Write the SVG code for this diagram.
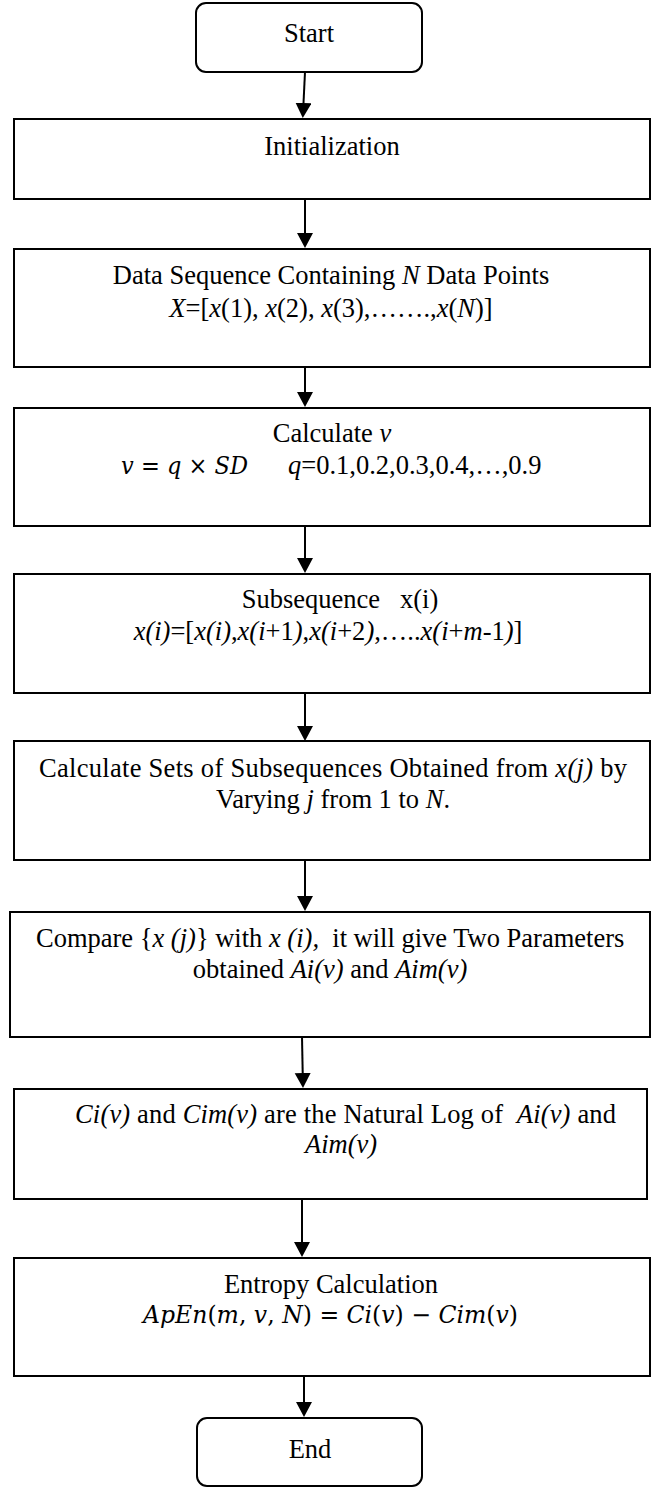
<svg xmlns="http://www.w3.org/2000/svg" width="658" height="1487" viewBox="0 0 658 1487">
<style>
.box{fill:#fff;stroke:#000;stroke-width:2}
.t{font-family:"Liberation Serif","Times New Roman",serif;font-size:26.5px;fill:#000}
.m{font-family:"DejaVu Serif","Liberation Serif",serif;font-size:24px;fill:#000}
.i{font-style:italic}
.c{text-anchor:middle}
.conn line{stroke:#000;stroke-width:2}
</style>
<defs>
<marker id="ah" markerUnits="userSpaceOnUse" markerWidth="17" markerHeight="17" refX="0" refY="8" orient="auto">
<path d="M0,0 L15,8 L0,16 Z" fill="#000"/>
</marker>
</defs>
<rect width="658" height="1487" fill="#fff"/>
<g id="start"><rect class="box" x="196" y="3" width="226" height="69" rx="10"/><text class="t c" x="309" y="42">Start</text></g>
<g id="init"><rect class="box" x="14" y="119" width="636" height="80"/><text class="t c" x="332" y="155">Initialization</text></g>
<g id="data"><rect class="box" x="14" y="249" width="636" height="118"/>
<text class="t c" x="331" y="284">Data Sequence Containing <tspan class="i">N</tspan> Data Points</text>
<text class="t c" x="331" y="317"><tspan class="i">X</tspan>=[<tspan class="i">x</tspan>(1), <tspan class="i">x</tspan>(2), <tspan class="i">x</tspan>(3),…….,<tspan class="i">x</tspan>(<tspan class="i">N</tspan>)]</text></g>
<g id="calcv"><rect class="box" x="14" y="408" width="636" height="118"/>
<text class="t c" x="332" y="442">Calculate <tspan class="i">v</tspan></text>
<text class="m" x="121" y="474" textLength="127" lengthAdjust="spacingAndGlyphs"><tspan class="i">v</tspan> = <tspan class="i">q</tspan> × <tspan class="i">SD</tspan></text>
<text class="t" x="288" y="474"><tspan class="i">q</tspan>=0.1,0.2,0.3,0.4,…,0.9</text></g>
<g id="subseq"><rect class="box" x="14" y="574" width="636" height="119"/>
<text class="t c" x="340" y="608" xml:space="preserve">Subsequence   x(i)</text>
<text class="t c" x="328" y="640"><tspan class="i">x(i)</tspan>=[<tspan class="i">x(i)</tspan>,<tspan class="i">x(i</tspan>+1<tspan class="i">)</tspan>,<tspan class="i">x(i</tspan>+2<tspan class="i">)</tspan>,…..<tspan class="i">x(i</tspan>+<tspan class="i">m</tspan>-1<tspan class="i">)</tspan>]</text></g>
<g id="sets"><rect class="box" x="14" y="741" width="636" height="119"/>
<text class="t c" x="333" y="777" textLength="588" lengthAdjust="spacing">Calculate Sets of Subsequences Obtained from <tspan class="i">x(j)</tspan> by</text>
<text class="t c" x="333" y="808">Varying <tspan class="i">j</tspan> from 1 to <tspan class="i">N</tspan>.</text></g>
<g id="compare"><rect class="box" x="10" y="912" width="640" height="125"/>
<text class="t" x="36" y="947" xml:space="preserve">Compare {<tspan class="i">x (j)</tspan>} with <tspan class="i">x (i),</tspan>  it will give Two Parameters</text>
<text class="t c" x="330" y="978">obtained <tspan class="i">Ai(v)</tspan> and <tspan class="i">Aim(v)</tspan></text></g>
<g id="log"><rect class="box" x="14" y="1089" width="633" height="110"/>
<text class="t" x="75" y="1123" xml:space="preserve" textLength="541" lengthAdjust="spacing"><tspan class="i">Ci(v)</tspan> and <tspan class="i">Cim(v)</tspan> are the Natural Log of  <tspan class="i">Ai(v)</tspan> and</text>
<text class="t" x="305" y="1153"><tspan class="i">Aim(v)</tspan></text></g>
<g id="entropy"><rect class="box" x="14" y="1258" width="636" height="118"/>
<text class="t c" x="331" y="1293">Entropy Calculation</text>
<text class="m" x="143" y="1323" textLength="375" lengthAdjust="spacingAndGlyphs"><tspan class="i">ApEn</tspan>(<tspan class="i">m</tspan>, <tspan class="i">v</tspan>, <tspan class="i">N</tspan>) = <tspan class="i">Ci</tspan>(<tspan class="i">v</tspan>) − <tspan class="i">Cim</tspan>(<tspan class="i">v</tspan>)</text></g>
<g id="end"><rect class="box" x="197" y="1418" width="225" height="68" rx="10"/><text class="t c" x="310" y="1458">End</text></g>
<g class="conn" id="connectors">
<line x1="305" y1="72" x2="303.5" y2="103" marker-end="url(#ah)"/>
<line x1="305" y1="199" x2="305" y2="233" marker-end="url(#ah)"/>
<line x1="305" y1="367" x2="305" y2="392" marker-end="url(#ah)"/>
<line x1="305" y1="526" x2="305" y2="558" marker-end="url(#ah)"/>
<line x1="305" y1="693" x2="305" y2="726" marker-end="url(#ah)"/>
<line x1="305" y1="860" x2="305" y2="896" marker-end="url(#ah)"/>
<line x1="302" y1="1037" x2="302.7" y2="1073" marker-end="url(#ah)"/>
<line x1="302" y1="1199" x2="302" y2="1242" marker-end="url(#ah)"/>
<line x1="304" y1="1376" x2="304" y2="1402" marker-end="url(#ah)"/>
</g>
</svg>
